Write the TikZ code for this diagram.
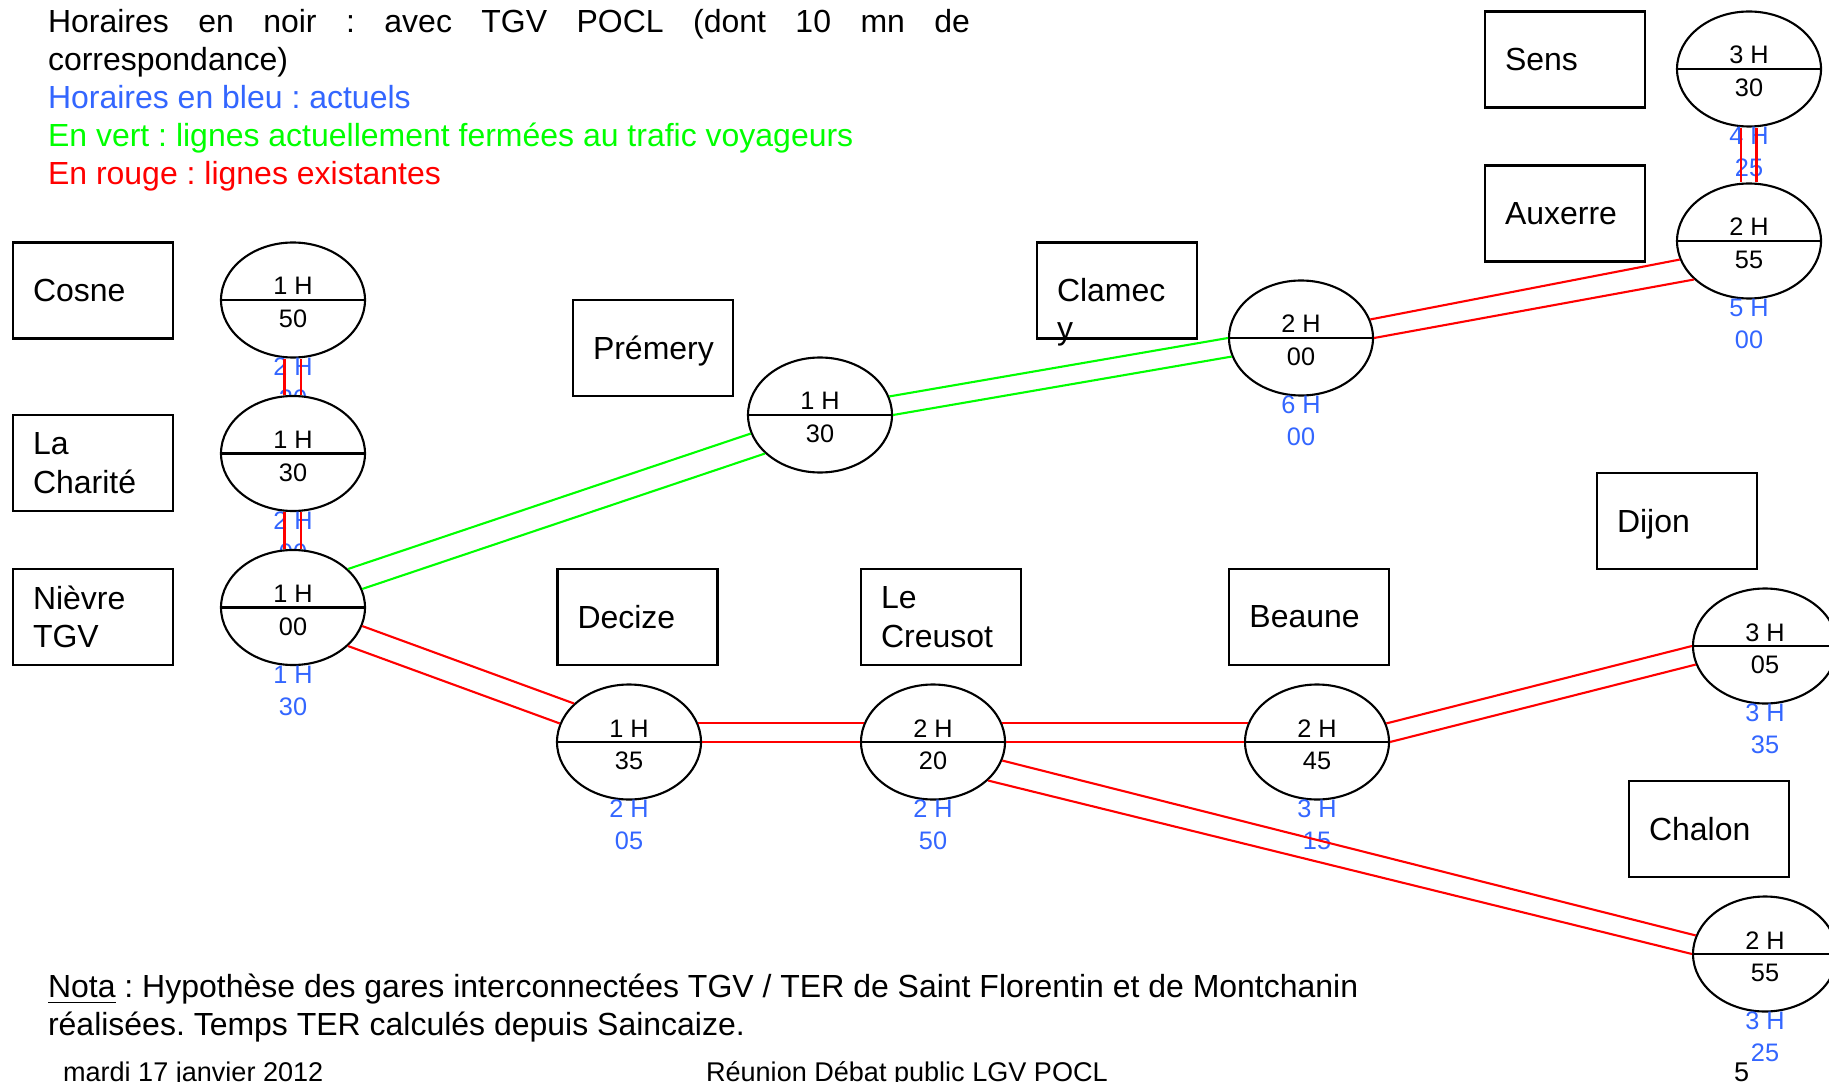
\documentclass[tikz,border=0pt]{standalone}
\usepackage{fontspec}
\setmainfont{Liberation Sans}
\usetikzlibrary{shapes.geometric, positioning}
\definecolor{bleu}{RGB}{51,102,255}
\definecolor{vert}{RGB}{0,255,0}
\frenchspacing

% ellipse with the times: name, position, TGV hours, minutes, current hours, minutes
\newcommand{\horaire}[6]{%
	\node[ovale] (#1) at (#2) {};
	\draw (#1.west) -- (#1.east);
	\node[noir] (#1-h) at ([yshift=0.5mm]#1.center) {#3};
	\node[noir] (#1-m) at ([yshift=-2.75mm]#1.center) {#4};
	\node[actuel] (#1-bh) at ([yshift=-7.55mm]#1.center) {#5};
	\node[actuel] (#1-bm) at ([yshift=-10.75mm]#1.center) {#6};
}

\begin{document}
\begin{tikzpicture}[x=0.1mm, y=-0.1mm, line width=0.6pt,
	every node/.style={inner sep=0pt},
	gare/.style={draw, rectangle, minimum width=16mm, minimum height=9.6mm, text width=12mm, inner xsep=2mm, align=flush left, font=\fontsize{9.1pt}{10.9pt}\selectfont},
	ovale/.style={draw, ellipse, fill=white, minimum width=14.4mm, minimum height=11.5mm},
	noir/.style={anchor=base, font=\fontsize{7.2pt}{9.1pt}\selectfont},
	actuel/.style={noir, text=bleu},
	texte/.style={anchor=base west, font=\fontsize{9.1pt}{10.9pt}\selectfont},
	pied/.style={anchor=base west, font=\fontsize{7.7pt}{9pt}\selectfont},
	rouge/.style={red},
	ferme/.style={vert}]
	\path[use as bounding box, fill=white] (0,0) rectangle (1829,1082);

	%%%% legend
	\node[texte] (l1) at (47,33) {\makebox[92.2mm][s]{Horaires en noir : avec TGV POCL (dont 10 mn de}};
	\node[texte] (l2) at (47,71) {correspondance)};
	\node[texte, text=bleu] (l3) at (47,109) {Horaires en bleu : actuels};
	\node[texte, text=vert] (l4) at (47,147) {En vert : lignes actuellement fermées au trafic voyageurs};
	\node[texte, text=red] (l5) at (47,185) {En rouge : lignes existantes};

	%%%% stations
	\node[gare] (cosne) at (93,290.5) {Cosne};
	\node[gare] (charite) at (93,463) {La\\Charité};
	\node[gare] (nievre) at (93,617) {Nièvre\\TGV};
	\node[gare, text depth=0pt] (premery) at (653,347.6) {Prémery};
	\node[gare] (clamecy) at (1117,290.5) {\rlap{\smash{\raisebox{-3.8mm}{y}}}Clamec};
	\node[gare] (sens) at (1565,59.5) {Sens};
	\node[gare] (auxerre) at (1565,213.5) {Auxerre};
	\node[gare, text depth=0pt] (dijon) at (1677,521.4) {Dijon};
	\node[gare] (decize) at (637.5,617) {Decize};
	\node[gare] (creusot) at (941,617) {Le\\Creusot};
	\node[gare] (beaune) at (1309.4,617) {Beaune};
	\node[gare] (chalon) at (1709,829) {Chalon};

	%%%% times
	\horaire{cosneT}{293,300}{1 H}{50}{2 H}{20}
	\horaire{chariteT}{293,453.5}{1 H}{30}{2 H}{00}
	\horaire{nievreT}{293,607.5}{1 H}{00}{1 H}{30}
	\node[ovale] (premeryT) at (820,415) {};
	\draw (premeryT.west) -- (premeryT.east);
	\node[noir] (premeryT-h) at ([yshift=0.5mm]premeryT.center) {1 H};
	\node[noir] (premeryT-m) at ([yshift=-2.75mm]premeryT.center) {30};
	\horaire{clamecyT}{1301,338}{2 H}{00}{6 H}{00}
	\horaire{sensT}{1749,69}{3 H}{30}{4 H}{25}
	\horaire{auxerreT}{1749,241}{2 H}{55}{5 H}{00}
	\horaire{dijonT}{1765,646}{3 H}{05}{3 H}{35}
	\horaire{decizeT}{629,742}{1 H}{35}{2 H}{05}
	\horaire{creusotT}{933,742}{2 H}{20}{2 H}{50}
	\horaire{beauneT}{1317,742}{2 H}{45}{3 H}{15}
	\horaire{chalonT}{1765,954}{2 H}{55}{3 H}{25}

	%%%% existing lines
	\draw[rouge] ([xshift=-0.85mm]cosneT.south) -- ([xshift=-0.85mm]chariteT.north);
	\draw[rouge] ([xshift=0.8mm]cosneT.south) -- ([xshift=0.8mm]chariteT.north);
	\draw[rouge] ([xshift=-0.85mm]chariteT.south) -- ([xshift=-0.85mm]nievreT.north);
	\draw[rouge] ([xshift=0.8mm]chariteT.south) -- ([xshift=0.8mm]nievreT.north);
	\draw[rouge] ([xshift=-0.8mm]sensT.south) -- ([xshift=-0.8mm]auxerreT.north);
	\draw[rouge] ([xshift=0.75mm]sensT.south) -- ([xshift=0.75mm]auxerreT.north);
	\draw[rouge] (clamecyT.15) -- (auxerreT.195);
	\draw[rouge] (clamecyT.east) -- (auxerreT.215);
	\draw[rouge] (nievreT.-15) -- (decizeT.145);
	\draw[rouge] (nievreT.-35) -- (decizeT.165);
	\draw[rouge] (decizeT.15) -- (creusotT.165);
	\draw[rouge] (decizeT.east) -- (creusotT.west);
	\draw[rouge] (creusotT.15) -- (beauneT.165);
	\draw[rouge] (creusotT.east) -- (beauneT.west);
	\draw[rouge] (beauneT.15) -- (dijonT.west);
	\draw[rouge] (beauneT.east) -- (dijonT.195);
	\draw[rouge] (creusotT.-15) -- (chalonT.165);
	\draw[rouge] (creusotT.-35) -- (chalonT.west);

	%%%% closed lines
	\draw[ferme] (nievreT.35) -- (premeryT.195);
	\draw[ferme] (nievreT.15) -- (premeryT.215);
	\draw[ferme] (premeryT.15) -- (clamecyT.west);
	\draw[ferme] (premeryT.east) -- (clamecyT.195);

	%%%% note and footer
	\node[texte] (nota1) at (47,997) {\underline{Nota} : Hypothèse des gares interconnectées TGV / TER de Saint Florentin et de Montchanin};
	\node[texte] (nota2) at (47,1035) {réalisées. Temps TER calculés depuis Saincaize.};
	\node[pied] (date) at (62,1081) {mardi 17 janvier 2012};
	\node[pied] (titre) at (705,1081) {Réunion Débat public LGV POCL};
	\node[pied] (page) at (1733,1081) {5};
\end{tikzpicture}
\end{document}
